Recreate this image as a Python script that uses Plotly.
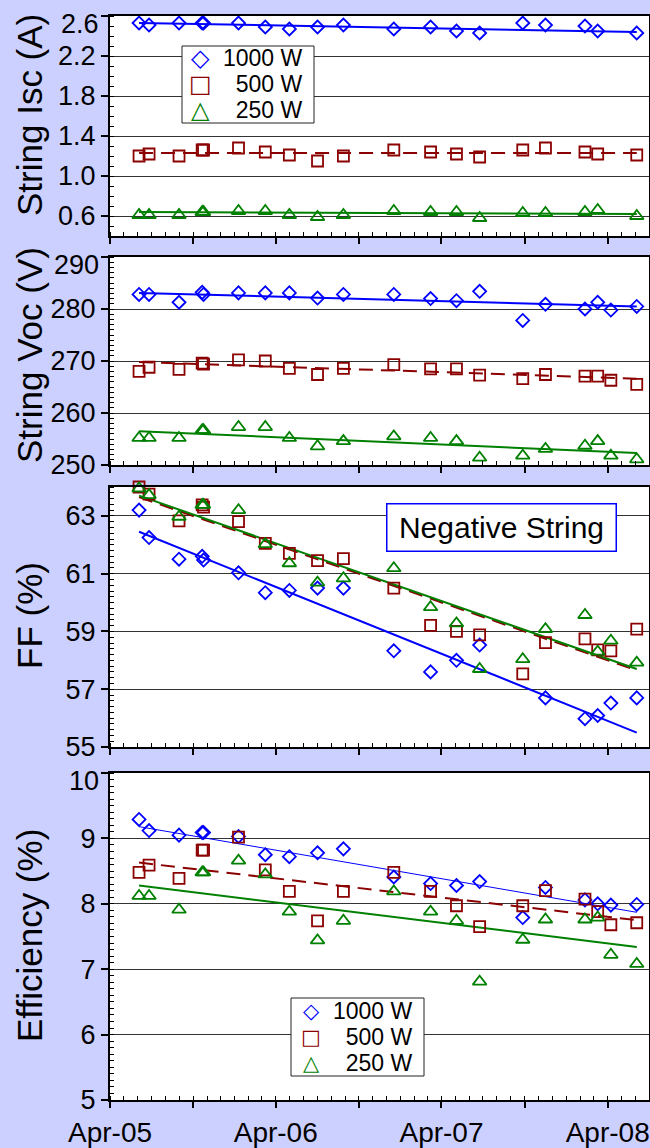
import numpy as np
import plotly.graph_objects as go

# ---------------- data ----------------
dates = ['2005-06-04', '2005-06-26', '2005-08-31', '2005-10-21', '2005-10-24',
         '2006-01-09', '2006-03-09', '2006-05-01', '2006-07-02', '2006-08-28',
         '2006-12-17', '2007-03-08', '2007-05-04', '2007-06-24', '2007-09-27',
         '2007-11-16', '2008-02-11', '2008-03-10', '2008-04-08', '2008-06-04']

isc_1000 = [2.53, 2.51, 2.53, 2.53, 2.53, 2.53, 2.49, 2.47, 2.49, 2.51,
            2.47, 2.49, 2.45, 2.43, 2.53, 2.51, 2.50, 2.45, None, 2.43]
isc_500 = [1.20, 1.22, 1.20, 1.26, 1.26, 1.28, 1.24, 1.21, 1.15, 1.20,
           1.26, 1.24, 1.22, 1.19, 1.26, 1.28, 1.24, 1.22, None, 1.21]
isc_250 = [0.61, 0.61, 0.61, 0.64, 0.64, 0.65, 0.65, 0.61, 0.59, 0.61,
           0.65, 0.64, 0.64, 0.58, 0.63, 0.63, 0.64, 0.66, None, 0.60]

voc_1000 = [282.8, 282.8, 281.3, 283.2, 282.8, 283.1, 283.1, 283.1, 282.1, 282.8,
            282.8, 282.0, 281.6, 283.4, 277.8, 280.9, 280.0, 281.3, 279.8, 280.5]
voc_500 = [268.0, 268.8, 268.4, 269.6, 269.4, 270.2, 270.0, 268.6, 267.4, 268.6,
           269.3, 268.5, 268.5, 267.3, 266.6, 267.4, 267.1, 267.1, 266.3, 265.5]
voc_250 = [255.2, 255.2, 255.2, 256.7, 256.7, 257.3, 257.3, 255.2, 253.6, 254.6,
           255.5, 255.2, 254.6, 251.4, 251.8, 253.1, 253.7, 254.6, 251.8, 251.1]

ff_1000 = [63.2, 62.25, 61.5, 61.6, 61.47, 61.03, 60.34, 60.42, 60.5, 60.5,
           58.33, 57.6, 58.0, 58.53, None, 56.7, 55.98, 56.09, 56.52, 56.7]
ff_500 = [64.0, 63.75, 62.83, 63.38, 63.3, 62.8, 62.05, 61.7, 61.45, 61.52,
          60.5, 59.21, 59.0, 58.88, 57.53, 58.61, 58.74, 58.36, 58.33, 59.08]
ff_250 = [63.95, 63.72, 62.97, 63.38, 63.38, 63.2, 62.02, 61.36, 60.69, 60.84,
          61.19, 59.84, 59.28, 57.7, 58.04, 59.08, 59.57, 58.3, 58.68, 57.92]

eff_1000 = [9.29, 9.12, 9.05, 9.09, 9.09, 9.03, 8.75, 8.72, 8.78, 8.84,
            8.41, 8.31, 8.28, 8.34, 7.79, 8.25, 8.06, 8.00, 7.98, 7.99]
eff_500 = [8.48, 8.59, 8.39, 8.82, 8.82, 9.02, 8.52, 8.19, 7.74, 8.19,
           8.48, 8.19, 7.97, 7.65, 7.97, 8.20, 8.07, 7.88, 7.68, 7.71]
eff_250 = [8.12, 8.12, 7.91, 8.48, 8.48, 8.66, 8.45, 7.88, 7.44, 7.74,
           8.19, 7.88, 7.74, 6.81, 7.45, 7.76, 7.76, 7.79, 7.22, 7.08]

# trend lines: value at first and last measurement date
trend_dates = [dates[0], dates[-1]]
isc_trend = {'1000': [2.53, 2.44], '500': [1.23, 1.23], '250': [0.64, 0.62]}
voc_trend = {'1000': [283.1, 280.5], '500': [269.8, 266.6], '250': [256.5, 252.3]}
ff_trend = {'1000': [62.45, 55.5], '500': [63.65, 57.65], '250': [63.7, 57.7]}
eff_trend = {'1000': [9.18, 7.87], '500': [8.63, 7.75], '250': [8.28, 7.34]}

series_names = ['1000 W', '500 W', '250 W']
legend_labels = ['1000 W', '\u00a0\u00a0500 W', '\u00a0\u00a0250 W']
legend_glyphs = ['\u25c7', '\u25a1', '\u25b3']
y_titles = ['String Isc (A)', 'String Voc (V)', 'FF (%)', 'Efficiency (%)']
x_tickvals = ['2005-04-01', '2005-10-01', '2006-04-01', '2006-10-01',
              '2007-04-01', '2007-10-01', '2008-04-01']
x_ticktext = ['Apr-05', '', 'Apr-06', '', 'Apr-07', '', 'Apr-08']

# ---------------- styles ----------------
BLUE, RED, GREEN = '#0000ff', '#8b0000', '#008000'
colors = {'1000': BLUE, '500': RED, '250': GREEN}
symbols = {'1000': 'diamond-open', '500': 'square-open', '250': 'triangle-up-open'}
msizes = {'1000': 10, '500': 11, '250': 12}
FONT = 'Arial, Liberation Sans, sans-serif'
BG = '#ccd0ff'
TICK_FS = 27

W, H = 650, 1148
ML, MR, MT, MB = 110, 1, 16, 48
PW, PH = W - ML - MR, H - MT - MB


def px_x(px):
    return (px - ML) / PW


def px_y(py):
    return (H - MB - py) / PH


panels = [
    dict(data={'1000': isc_1000, '500': isc_500, '250': isc_250}, trend=isc_trend,
         pix=(16, 236), rng=[0.4, 2.6], tick0=0.6, dtick=0.4, fmt='{:.1f}', minor=0.1),
    dict(data={'1000': voc_1000, '500': voc_500, '250': voc_250}, trend=voc_trend,
         pix=(257, 465), rng=[250, 290], tick0=250, dtick=10, fmt='{:.0f}', minor=1),
    dict(data={'1000': ff_1000, '500': ff_500, '250': ff_250}, trend=ff_trend,
         pix=(487, 747), rng=[55, 64], tick0=55, dtick=2, fmt='{:.0f}', minor=0.2),
    dict(data={'1000': eff_1000, '500': eff_500, '250': eff_250}, trend=eff_trend,
         pix=(773, 1100), rng=[5, 10], tick0=5, dtick=1, fmt='{:.0f}', minor=0.1),
]

fig = go.Figure()
layout_axes = {}
annotations = []
shapes = []
for i, p in enumerate(panels):
    n = i + 1
    xa = 'x' if n == 1 else f'x{n}'
    ya = 'y' if n == 1 else f'y{n}'
    for key in ['1000', '500', '250']:
        lw = 1 if (n == 4 and key == '1000') else 2
        fig.add_trace(go.Scatter(
            x=trend_dates, y=p['trend'][key], mode='lines', xaxis=xa, yaxis=ya,
            line=dict(color=colors[key], width=lw,
                      dash='14px,8px' if key == '500' else 'solid'),
            showlegend=False, hoverinfo='skip'))
    for key, name in zip(['1000', '500', '250'], series_names):
        fig.add_trace(go.Scatter(
            x=dates, y=p['data'][key], mode='markers', name=name, xaxis=xa, yaxis=ya,
            marker=dict(symbol=symbols[key], size=msizes[key],
                        color=colors[key], line=dict(width=1.8, color=colors[key])),
            cliponaxis=False, showlegend=False))

    top, bot = p['pix']
    yticks = list(np.round(np.arange(p['tick0'], p['rng'][1] + 1e-9, p['dtick']), 6))
    ytext = [p['fmt'].format(v) for v in yticks]
    # a label sitting on the top edge is drawn nudged down inside the panel
    if abs(yticks[-1] - p['rng'][1]) < 1e-9:
        annotations.append(dict(text=ytext[-1], xref='paper', yref='paper',
                                x=px_x(101), y=px_y(top + 8), xanchor='right',
                                yanchor='middle', showarrow=False,
                                font=dict(size=TICK_FS, family=FONT, color='black')))
        ytext[-1] = ''

    layout_axes['xaxis' if n == 1 else f'xaxis{n}'] = dict(
        type='date', range=['2005-04-01', '2008-07-01'], domain=[0, 1],
        anchor=ya, tickmode='array', tickvals=x_tickvals,
        ticktext=x_ticktext if n == 4 else [''] * len(x_tickvals),
        ticks='outside', ticklen=6, tickwidth=1.5, tickcolor='black',
        showgrid=False, zeroline=False, showline=True, linecolor='black',
        linewidth=2, mirror=True, tickfont=dict(size=28, family=FONT, color='black'),
        minor=dict(dtick='M1', tick0='2005-04-01', ticks='inside', ticklen=4,
                   tickwidth=1, tickcolor='black', showgrid=False))
    layout_axes['yaxis' if n == 1 else f'yaxis{n}'] = dict(
        domain=[px_y(bot), px_y(top)], range=p['rng'], anchor=xa,
        tickmode='array', tickvals=yticks, ticktext=ytext,
        ticks='outside', ticklen=7, tickwidth=1.5, tickcolor='black',
        showgrid=True, gridcolor='#333333', gridwidth=1, zeroline=False,
        showline=True, linecolor='black', linewidth=2, mirror=True,
        tickfont=dict(size=TICK_FS, family=FONT, color='black'),
        minor=dict(tickmode='linear', tick0=p['rng'][0], dtick=p['minor'], ticks='inside',
                   ticklen=4, tickwidth=1, tickcolor='black', showgrid=False))

# y-axis titles
for title, cy in zip(y_titles, [115, 355, 616, 936]):
    annotations.append(dict(text=title, xref='paper', yref='paper', x=px_x(29), y=px_y(cy),
                            xanchor='center', yanchor='middle', textangle=-90,
                            showarrow=False, font=dict(size=35, family=FONT, color='black')))

# "Negative String" label
annotations.append(dict(text='Negative String', xref='paper', yref='paper',
                        x=px_x(501), y=px_y(527.5), xanchor='center', yanchor='middle',
                        showarrow=False, bgcolor='white', bordercolor=BLUE, borderwidth=1.5,
                        borderpad=3, width=222, height=40,
                        font=dict(size=30, family=FONT, color='black')))

# legends (box + glyph + label)
legend_specs = [
    dict(box=(182, 46, 314, 123), rows=[58, 84, 110], gx=200, tx=305, gsize=24),
    dict(box=(291, 998, 424, 1076), rows=[1011, 1037, 1063], gx=311, tx=415, gsize=21),
]
for spec in legend_specs:
    x0, y0, x1, y1 = spec['box']
    shapes.append(dict(type='rect', xref='paper', yref='paper', x0=px_x(x0), x1=px_x(x1),
                       y0=px_y(y1), y1=px_y(y0), line=dict(color='#222222', width=1),
                       fillcolor='white', layer='above'))
    for key, glyph, label, ry in zip(['1000', '500', '250'], legend_glyphs, legend_labels, spec['rows']):
        annotations.append(dict(text=glyph, xref='paper', yref='paper', x=px_x(spec['gx']),
                                y=px_y(ry), xanchor='center', yanchor='middle', showarrow=False,
                                font=dict(size=spec['gsize'], family='DejaVu Sans', color=colors[key])))
        annotations.append(dict(text=label, xref='paper', yref='paper', x=px_x(spec['tx']),
                                y=px_y(ry), xanchor='right', yanchor='middle', showarrow=False,
                                font=dict(size=23, family=FONT, color='black')))

fig.update_layout(
    width=W, height=H, margin=dict(l=ML, r=MR, t=MT, b=MB, autoexpand=False),
    paper_bgcolor=BG, plot_bgcolor='white', showlegend=False,
    font=dict(family=FONT, color='black'),
    annotations=annotations, shapes=shapes, **layout_axes)

fig.write_html('out.html')
